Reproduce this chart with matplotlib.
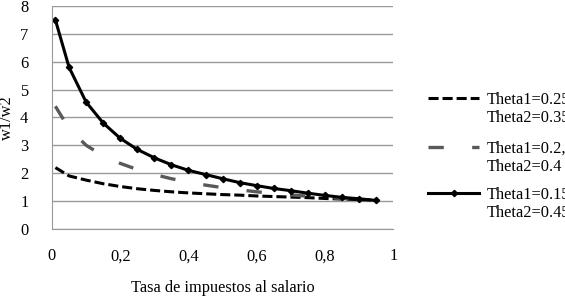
import matplotlib
matplotlib.use("Agg")
import matplotlib.pyplot as plt
from matplotlib.lines import Line2D

plt.rcParams.update({
    "font.family": "Liberation Serif",
    "font.size": 11.8,
})

tasa = [0.01, 0.05, 0.1, 0.15, 0.2, 0.25, 0.3, 0.35, 0.4, 0.45,
        0.5, 0.55, 0.6, 0.65, 0.7, 0.75, 0.8, 0.85, 0.9, 0.95]
ratio_025 = [2.2, 1.9, 1.75, 1.62, 1.52, 1.44, 1.38, 1.33, 1.29, 1.26,
             1.23, 1.21, 1.18, 1.16, 1.14, 1.12, 1.09, 1.07, 1.05, 1.03]
ratio_020 = [4.4, 3.6, 3.0, 2.62, 2.35, 2.13, 1.95, 1.8, 1.68, 1.57,
             1.48, 1.4, 1.33, 1.27, 1.22, 1.17, 1.13, 1.09, 1.06, 1.03]
ratio_015 = [7.5, 5.8, 4.55, 3.8, 3.25, 2.85, 2.55, 2.3, 2.1, 1.95,
             1.8, 1.66, 1.55, 1.45, 1.37, 1.28, 1.2, 1.13, 1.08, 1.02]
labels = ["Theta1=0.25,\nTheta2=0.35", "Theta1=0.2,\nTheta2=0.4", "Theta1=0.15,\nTheta2=0.45"]
x_ticks = [0, 0.2, 0.4, 0.6, 0.8, 1]
x_tick_labels = ["0", "0,2", "0,4", "0,6", "0,8", "1"]

styles = [
    dict(color="black", lw=2.2, ls=(0, (3.3, 1.3))),
    dict(color="#595959", lw=2.4, ls=(0, (4.6, 8.5))),
    dict(color="black", lw=2.2, marker="D", ms=3.2),
]

fig = plt.figure(figsize=(5.65, 2.98), dpi=100)
ax = fig.add_axes([0.092, 0.232, 0.604, 0.748])

for ys, st in zip([ratio_025, ratio_020, ratio_015], styles):
    ax.plot(tasa, ys, **st)

ax.set_xlim(0, 1)
ax.set_ylim(0, 8)
ax.set_yticks(range(9))
ax.set_xticks(x_ticks)
ax.set_xticklabels(x_tick_labels)
ax.grid(axis="y", color="#999999", lw=1)
ax.set_axisbelow(True)
for s in ["top", "right"]:
    ax.spines[s].set_visible(False)
for s in ["left", "bottom"]:
    ax.spines[s].set_color("#999999")
ax.tick_params(axis="x", length=0, pad=14)
ax.tick_params(axis="y", length=0, pad=17)
ax.set_xlabel("Tasa de impuestos al salario", labelpad=11)
ax.set_ylabel("w1/w2", labelpad=4)

# legend drawn by hand: handle sits on first text line, like the Excel original
W, H = 565, 298
entry_top = [98, 147, 193]
line_gap = 18
for y0, lab, st in zip(entry_top, labels, styles):
    yf = 1 - y0 / H
    if "marker" in st:
        fig.add_artist(Line2D([428 / W, 453.5 / W, 479 / W], [yf] * 3,
                              markevery=[1], **st))
    else:
        fig.add_artist(Line2D([428 / W, 479 / W], [yf, yf], **st))
    for k, part in enumerate(lab.split("\n")):
        fig.text(487 / W, 1 - (y0 + k * line_gap) / H, part,
                 ha="left", va="center_baseline")

fig.savefig("out.png", dpi=100)
